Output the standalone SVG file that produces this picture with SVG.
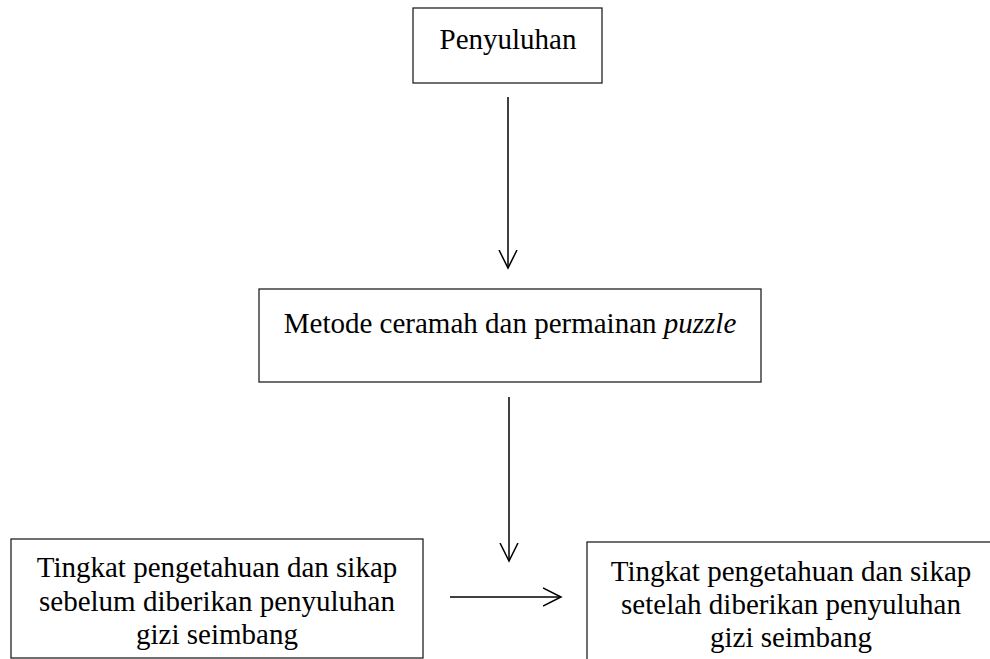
<svg xmlns="http://www.w3.org/2000/svg" width="990" height="659" viewBox="0 0 990 659">
<style>
.box{fill:#fff;stroke:#222;stroke-width:1.3}
.t{font-family:"Liberation Serif","Times New Roman",serif;font-size:29px;fill:#000;text-anchor:middle}
.c{stroke:#000;stroke-width:1.5;fill:none}
</style>
<defs>
<marker id="ah" viewBox="0 0 20 20" refX="18" refY="10" markerWidth="20" markerHeight="20" markerUnits="userSpaceOnUse" orient="auto">
<path d="M0,1 L18,10 L0,19" fill="none" stroke="#000" stroke-width="1.5"/>
</marker>
</defs>
<rect width="990" height="659" fill="#fff"/>
<g id="node-penyuluhan">
<rect class="box" x="413" y="8" width="189" height="75"/>
<text class="t" x="508" y="49">Penyuluhan</text>
</g>
<g id="node-metode">
<rect class="box" x="259" y="289" width="502" height="93"/>
<text class="t" x="510" y="333">Metode ceramah dan permainan <tspan font-style="italic">puzzle</tspan></text>
</g>
<g id="node-sebelum">
<rect class="box" x="11" y="539" width="412" height="119"/>
<text class="t" x="217" y="577">Tingkat pengetahuan dan sikap</text>
<text class="t" x="217" y="611">sebelum diberikan penyuluhan</text>
<text class="t" x="217" y="644">gizi seimbang</text>
</g>
<g id="node-setelah">
<rect class="box" x="587" y="542" width="410" height="130"/>
<text class="t" x="791" y="581">Tingkat pengetahuan dan sikap</text>
<text class="t" x="791" y="614">setelah diberikan penyuluhan</text>
<text class="t" x="791" y="647">gizi seimbang</text>
</g>
<g id="connectors">
<line class="c" x1="508" y1="97" x2="508" y2="268" marker-end="url(#ah)"/>
<line class="c" x1="509" y1="397" x2="509" y2="561" marker-end="url(#ah)"/>
<line class="c" x1="450" y1="597" x2="561" y2="597" marker-end="url(#ah)"/>
</g>
</svg>
